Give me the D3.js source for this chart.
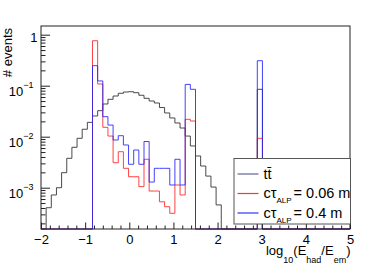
<!DOCTYPE html>
<html><head><meta charset="utf-8">
<script src="https://cdn.jsdelivr.net/npm/d3@7"></script>
<style>
body{margin:0;background:#fff;}
svg{display:block;}
text{font-family:"Liberation Sans",Arial,Helvetica,sans-serif;fill:#000;}
</style>
</head><body>
<svg id="c" width="390" height="264"></svg>
<script>
// ---- data ----
const xRange = [-2, 5];
const nBins = 60;
const ttbar = [
  0, 4.05e-4, 7.2e-4, 1.0e-3, 1.97e-3, 3.77e-3, 6.2e-3, 9.3e-3, 0.0140, 0.0191,
  0.0255, 0.0324, 0.0438, 0.0541, 0.0628, 0.0710, 0.0752, 0.0762, 0.0729, 0.0649,
  0.0566, 0.0501, 0.0458, 0.0374, 0.0292, 0.0233, 0.0186, 0.0148, 0.0103, 0.00658,
  0.00419, 0.00266, 0.00169, 0.00103, 0.00046, 0, 0, 0, 0, 0,
  0, 0, 0.085, 0, 0, 0, 0, 0, 0, 0,
  0, 0, 0, 0, 0, 0, 0, 0, 0, 0
];
const ctau006 = [
  0, 0, 0, 0, 0, 0, 0, 0, 0, 0,
  0.762, 0.108, 0.0153, 0.0103, 0.00309, 0.00508, 0.0024, 0.00164, 0.00164, 0.00105,
  0.00361, 8.6e-4, 8.6e-4, 5.3e-4, 4.24e-4, 3.15e-4, 1.13e-3, 7.2e-4, 0.0219, 0.0203,
  0, 0, 0, 0, 0, 0, 0, 0, 0, 0,
  0, 0, 0.0093, 0, 0, 0, 0, 0, 0, 0,
  0, 0, 0, 0, 0, 0, 0, 0, 0, 0
];
const ctau04 = [
  0, 0, 0, 0, 0, 0, 0, 0, 0, 0,
  0.247, 0.124, 0.0247, 0.0169, 0.00861, 0.01046, 0.00688, 0.00288, 0.00548, 0.00288,
  0.00805, 0.00129, 0.0024, 0.0024, 0.0024, 0.00113, 0.00361, 0.00113, 0.106, 0.085,
  0, 0, 0, 0, 0, 0, 0, 0, 0, 0,
  0, 0, 0.309, 0, 0, 0, 0, 0, 0, 0,
  0, 0, 0, 0, 0, 0, 0, 0, 0, 0
];
const xTickValues = [-2, -1, 0, 1, 2, 3, 4, 5];
const yTickValues = [1, 0.1, 0.01, 0.001];
const yTickExponents = [0, -1, -2, -3];
const yDomain = [1.55e-4, 1.481];
const legendValues = ["0.06 m", "0.4 m"];

// ---- layout ----
const svg = d3.select("#c");
const L = 41, R = 350, T = 26, B = 229;
const x = d3.scaleLinear().domain(xRange).range([L, R]);
const y = d3.scaleLog().domain(yDomain).range([B, T]);
const binW = (xRange[1] - xRange[0]) / nBins;

svg.append("rect").attr("x", L).attr("y", T).attr("width", R - L).attr("height", B - T)
  .attr("fill", "#fff").attr("stroke", "none");

// histograms
function stepPoints(vals) {
  const pts = [];
  vals.forEach((v, i) => {
    const x0 = xRange[0] + i * binW;
    pts.push([x0, v], [x0 + binW, v]);
  });
  return pts;
}
const line = d3.line()
  .x(d => x(d[0]))
  .y(d => y(Math.min(yDomain[1], Math.max(yDomain[0], d[1]))));

const series = [
  {vals: ttbar, color: "#2a2a2a"},
  {vals: ctau006, color: "#f22"},
  {vals: ctau04, color: "#22f"}
];
series.forEach(s => {
  svg.append("path").attr("d", line(stepPoints(s.vals)))
    .attr("fill", "none").attr("stroke", s.color).attr("stroke-width", 1)
    .attr("stroke-opacity", 0.85);
});

// axes
const minorX = d3.range(-2, 5.0001, 0.2).filter(v => Math.abs(v - Math.round(v)) > 1e-6);
svg.append("g").attr("transform", `translate(0,${B})`)
  .call(d3.axisBottom(x).tickValues(minorX).tickSize(-3.5).tickFormat(""))
  .call(g => g.select(".domain").remove())
  .selectAll("line").attr("stroke", "#222");
const gx = svg.append("g").attr("transform", `translate(0,${B})`)
  .call(d3.axisBottom(x).tickValues(xTickValues).tickSize(-6.5).tickPadding(5.5).tickFormat(d3.format("d")));
gx.select(".domain").remove();
gx.selectAll("line").attr("stroke", "#222");
gx.selectAll("text").attr("font-size", 13).attr("font-family", "Liberation Sans, Arial, sans-serif").attr("fill", "#000");

const minorY = [];
for (let e = -4; e <= 0; e++) for (let m = 2; m <= 9; m++) {
  const v = m * Math.pow(10, e);
  if (v > yDomain[0] && v < yDomain[1]) minorY.push(v);
}
svg.append("g").attr("transform", `translate(${L},0)`)
  .call(d3.axisLeft(y).tickValues(minorY).tickSize(-4.5).tickFormat(""))
  .call(g => g.select(".domain").remove())
  .selectAll("line").attr("stroke", "#222");
const gy = svg.append("g").attr("transform", `translate(${L},0)`)
  .call(d3.axisLeft(y).tickValues(yTickValues).tickSize(-9).tickFormat(""));
gy.select(".domain").remove();
gy.selectAll("line").attr("stroke", "#222");
gy.selectAll(".tick").each(function(d, i) {
  const g = d3.select(this);
  g.select("text").remove();
  const ex = yTickExponents[i];
  if (ex === 0) {
    g.append("text").attr("x", -3.5).attr("y", 7).attr("text-anchor", "end")
      .attr("font-size", 13).text("1");
  } else {
    const t = g.append("text").attr("x", -7.5).attr("y", 9.5).attr("text-anchor", "end")
      .attr("font-size", 13);
    t.append("tspan").text("10");
    t.append("tspan").attr("font-size", 9).attr("dy", -8).text("\u2212" + Math.abs(ex));
  }
});

svg.append("rect").attr("x", L).attr("y", T).attr("width", R - L).attr("height", B - T)
  .attr("fill", "none").attr("stroke", "#222").attr("stroke-width", 1);

// axis titles
svg.append("text").attr("transform", "translate(12,28) rotate(-90)")
  .attr("text-anchor", "end").attr("font-size", 13).text("# events");

const xt = svg.append("text").attr("x", 350.5).attr("y", 254.5).attr("text-anchor", "end").attr("font-size", 13);
xt.append("tspan").text("log");
xt.append("tspan").attr("font-size", 9).attr("dy", 8).text("10");
xt.append("tspan").attr("dy", -8).text("(E");
xt.append("tspan").attr("font-size", 9).attr("dy", 8).text("had");
xt.append("tspan").attr("dy", -8).text("/E");
xt.append("tspan").attr("font-size", 9).attr("dy", 8).text("em");
xt.append("tspan").attr("dy", -8).text(")");

// legend
const legendColors = ["#3d3d80", "#ff0000", "#0000ff"];
const legendY = [174, 193.5, 213];
const lg = svg.append("g");
lg.append("rect").attr("x", 234).attr("y", 158.5).attr("width", 116.5).attr("height", 65.5)
  .attr("fill", "#fff").attr("stroke", "#555").attr("stroke-width", 1);
legendY.forEach((ty, i) => {
  lg.append("rect").attr("x", 237.5).attr("y", ty - 0.6).attr("width", 21).attr("height", 1.2)
    .attr("fill", legendColors[i]).attr("fill-opacity", 0.8);
  const t = lg.append("text").attr("x", 263.5).attr("y", ty + 4.5).attr("font-size", 14.5);
  if (i === 0) {
    t.text("tt\u0304");
  } else {
    t.append("tspan").text("c\u03c4");
    t.append("tspan").attr("font-size", 8).attr("dy", 5).text("ALP");
    t.append("tspan").attr("dy", -5).attr("dx", 2).text("= " + legendValues[i - 1]);
  }
});
</script>
</body></html>
